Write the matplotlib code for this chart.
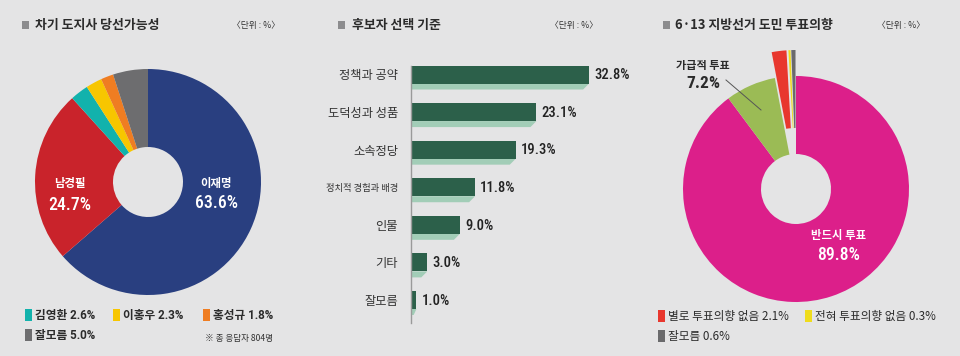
import matplotlib
matplotlib.use("Agg")
import matplotlib.pyplot as plt
from matplotlib.patches import Rectangle, Polygon
import numpy as np

# ---------------- data ----------------
p1_names = ["이재명", "남경필", "김영환", "이홍우", "홍성규", "잘모름"]
p1_values = [63.6, 24.7, 2.6, 2.3, 1.8, 5.0]
p1_colors = ["#293f80", "#c9232b", "#12b2ac", "#f7c600", "#ef7d22", "#6d6d6f"]

p2_names = ["정책과 공약", "도덕성과 성품", "소속정당", "정치적 경험과 배경", "인물", "기타", "잘모름"]
p2_values = [32.8, 23.1, 19.3, 11.8, 9.0, 3.0, 1.0]

p3_names = ["반드시 투표", "가급적 투표", "별로 투표의향 없음", "전혀 투표의향 없음", "잘모름"]
p3_values = [89.8, 7.2, 2.1, 0.3, 0.6]
p3_colors = ["#dc1f8a", "#9bbb55", "#e8372e", "#efdc1c", "#6a6a6c"]
p3_explode = [0, 0, 26, 26, 26]

BG = "#e4e4e5"
DARK = "#2b2b2b"
COND = ["Roboto Condensed", "Open Sans Condensed", "Noto Sans CJK KR"]
NUM = ["Roboto", "Noto Sans CJK KR"]
KR = ["Noto Sans CJK KR", "DejaVu Sans"]

W, H = 960, 356
fig = plt.figure(figsize=(9.6, 3.56), dpi=100, facecolor=BG)


def fx(x):
    return x / W


def fy(y):
    return 1 - y / H


def ftext(x, y, s, **kw):
    fig.text(fx(x), fy(y), s, **kw)


def frect(x, y, w, h, color):
    fig.patches.append(Rectangle((fx(x), fy(y + h)), w / W, h / H, color=color,
                                 transform=fig.transFigure, figure=fig, lw=0))


def title(sqx, tx, ux, text):
    frect(sqx, 21, 7, 8, "#8c8c8e")
    ftext(tx, 25.5, text, family=KR, fontweight="bold", fontsize=9.3, color=DARK,
          ha="left", va="center")
    ftext(ux, 25.5, "〈단위 : %〉", family=KR, fontsize=6.3, color="#333333",
          ha="left", va="center")


# ---------------- panel 1 : donut ----------------
cx1, cy1, R = 148, 182, 113
ax1 = fig.add_axes([fx(cx1 - 120), fy(cy1 + 120), 240 / W, 240 / H])
ax1.pie(p1_values, colors=p1_colors, startangle=90, counterclock=False, radius=R,
        wedgeprops=dict(width=78, linewidth=0))
ax1.set_xlim(-120, 120)
ax1.set_ylim(-120, 120)
ax1.axis("off")
ax1.set_facecolor("none")

title(22, 35, 232, "차기 도지사 당선가능성")

ftext(216, 183, p1_names[0], family=KR, fontweight="bold", fontsize=8.2, color="white",
      ha="center", va="center")
ftext(216, 203.5, f"{p1_values[0]}%", family=COND, fontweight="medium", fontsize=12.8,
      color="white", ha="center", va="center")
ftext(70, 183, p1_names[1], family=KR, fontweight="bold", fontsize=8.2, color="white",
      ha="center", va="center")
ftext(70, 204.5, f"{p1_values[1]}%", family=COND, fontweight="medium", fontsize=12.8,
      color="white", ha="center", va="center")

leg1 = [(25, 315, 2), (113, 315, 3), (203, 315, 4), (25, 335, 5)]
for x, y, i in leg1:
    frect(x, y - 6, 7, 12, p1_colors[i])
    ftext(x + 10, y + 0.5, f"{p1_names[i]} {p1_values[i]}%", family=NUM,
          fontweight="bold", fontsize=8.4, color=DARK, ha="left", va="center")
ftext(205, 338, "※ 총 응답자 804명", family=KR, fontsize=6.2, color="#333333",
      ha="left", va="center")

# ---------------- panel 2 : bars ----------------
px_per = 5.43
x0 = 411
step = 37.58
top = 74.5 - step / 2
n = len(p2_values)
ax2 = fig.add_axes([fx(x0), fy(top + n * step), 40 * px_per / W, n * step / H])
ax2.set_xlim(0, 40)
ax2.set_ylim(n - 0.5, -0.5)
ax2.set_facecolor("none")
for s in ax2.spines.values():
    s.set_visible(False)

bh = 18 / step
sh = 6 / step
dx = 6 / px_per
ypos = np.arange(n)
for i, v in enumerate(p2_values):
    yb = i + bh / 2
    d = min(dx, v * 0.5)
    ax2.add_patch(Polygon([(0, yb), (v, yb), (v - d, yb + sh), (0, yb + sh)],
                          closed=True, facecolor="#a2cdb7", edgecolor="none"))
ax2.barh(ypos, p2_values, height=bh, color="#2c604a", edgecolor="none")
for i, v in enumerate(p2_values):
    ax2.text(v + 0.95, i + 0.02, f"{v}%", family=COND, fontweight="medium",
             fontsize=10.5, color="#222222", ha="left", va="center")
ax2.plot([0, 0], [-bh / 2, 6.61], color="#9a9a9a", lw=1.0, clip_on=False)
ax2.set_xticks([])
ax2.set_yticks(ypos)
ax2.set_yticklabels(p2_names, family=KR, fontsize=8.8, color="#333333")
ax2.tick_params(axis="y", length=0, pad=9.3)
ax2.get_yticklabels()[3].set_fontsize(6.7)

title(338, 352, 550, "후보자 선택 기준")

# ---------------- panel 3 : donut ----------------
cx3, cy3 = 796, 189
ax3 = fig.add_axes([fx(cx3 - 150), fy(cy3 + 150), 300 / W, 300 / H])
ax3.pie(p3_values, colors=p3_colors, startangle=90, counterclock=False, radius=R,
        explode=p3_explode, wedgeprops=dict(width=78, linewidth=0))
ax3.set_xlim(-150, 150)
ax3.set_ylim(-150, 150)
ax3.axis("off")
ax3.set_facecolor("none")

title(663, 675, 877, "6·13 지방선거 도민 투표의향")

ftext(703, 65, p3_names[1], family=KR, fontweight="bold", fontsize=8.0, color=DARK,
      ha="center", va="center")
ftext(703, 83.5, f"{p3_values[1]}%", family=COND, fontweight="bold", fontsize=12.5,
      color=DARK, ha="center", va="center")
fig.add_artist(plt.Line2D([fx(726), fx(761)], [fy(80), fy(110)], color="#555555", lw=0.7,
                          transform=fig.transFigure))
ftext(839, 235, p3_names[0], family=KR, fontweight="bold", fontsize=8.2, color="white",
      ha="center", va="center")
ftext(839, 255.5, f"{p3_values[0]}%", family=COND, fontweight="medium", fontsize=12.8,
      color="white", ha="center", va="center")

leg3 = [(658, 316, 2), (805, 316, 3), (658, 336, 4)]
for x, y, i in leg3:
    frect(x, y - 6, 7, 12, p3_colors[i])
    ftext(x + 10, y + 0.5, f"{p3_names[i]} {p3_values[i]}%", family=KR,
          fontsize=8.4, color=DARK, ha="left", va="center")

fig.savefig("out.png", dpi=100, facecolor=BG)
